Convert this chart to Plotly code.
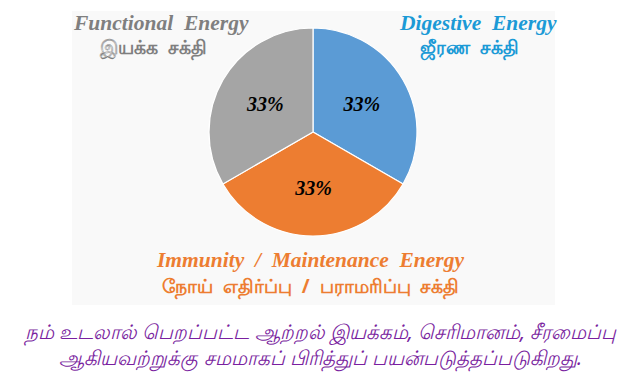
import plotly.graph_objects as go

categories = ["Digestive Energy", "Immunity / Maintenance Energy", "Functional Energy"]
values = [33, 33, 33]
colors = ["#5b9bd5", "#ed7d31", "#a5a5a5"]

label_en = ["Functional  Energy", "Digestive  Energy", "Immunity  /  Maintenance  Energy"]
label_ta = ["இயக்க  சக்தி", "ஜீரண  சக்தி", "நோய்  எதிர்ப்பு  /  பராமரிப்பு  சக்தி"]
label_colors = ["#7f7f7f", "#1b9ad6", "#ed7d31"]
caption = ["நம் உடலால் பெறப்பட்ட ஆற்றல் இயக்கம், செரிமானம், சீரமைப்பு",
           "ஆகியவற்றுக்கு சமமாகப் பிரித்துப் பயன்படுத்தப்படுகிறது."]

# the page body has an 8px margin; lay out in page pixels and shift
OFF = 8
W, H = 640 - OFF, 381 - OFF


def px(x):
    return (x - OFF) / W


def py(y):
    return 1 - (y - OFF) / H


cx, cy, r = 313, 132, 104

fig = go.Figure(go.Pie(
    labels=categories, values=values, sort=False, direction="clockwise", rotation=0,
    marker=dict(colors=colors, line=dict(color="white", width=1.2)),
    texttemplate="<b><i>%{value}%</i></b>", textposition="inside", insidetextorientation="horizontal",
    textfont=dict(family="Liberation Serif", size=20, color="black"),
    showlegend=False, hoverinfo="label+value",
    domain=dict(x=[px(cx - 150), px(cx + 150)], y=[py(cy + r), py(cy - r)]),
))

annotations = []
positions_en = [(161, 23), (478, 23), (310, 260)]
positions_ta = [(153, 48), (469, 48), (310, 286)]
for (x, y), t, c in zip(positions_en, label_en, label_colors):
    annotations.append(dict(x=px(x), y=py(y), xref="paper", yref="paper", text=f"<b><i>{t}</i></b>",
                            xanchor="center", yanchor="middle",
                            showarrow=False, font=dict(family="Liberation Serif", size=21.5, color=c)))
for (x, y), t, c in zip(positions_ta, label_ta, label_colors):
    annotations.append(dict(x=px(x), y=py(y), xref="paper", yref="paper", text=f"<b>{t}</b>",
                            xanchor="center", yanchor="middle",
                            showarrow=False, font=dict(family="Noto Sans", size=19, color=c)))
annotations.append(dict(x=px(320), y=py(345), xref="paper", yref="paper",
                        text="<i>" + "<br>".join(caption) + "</i>",
                        xanchor="center", yanchor="middle", align="center",
                        showarrow=False, font=dict(family="Noto Sans", size=20, color="#7a1fa0")))

fig.update_layout(
    width=W, height=H, margin=dict(l=0, r=0, t=0, b=0),
    paper_bgcolor="white", plot_bgcolor="white",
    annotations=annotations,
    shapes=[dict(type="rect", xref="paper", yref="paper", x0=px(72), x1=px(555),
                 y0=py(305), y1=py(11), fillcolor="#f9f9f9", line=dict(width=0), layer="below")],
)
fig.write_html("out.html")
